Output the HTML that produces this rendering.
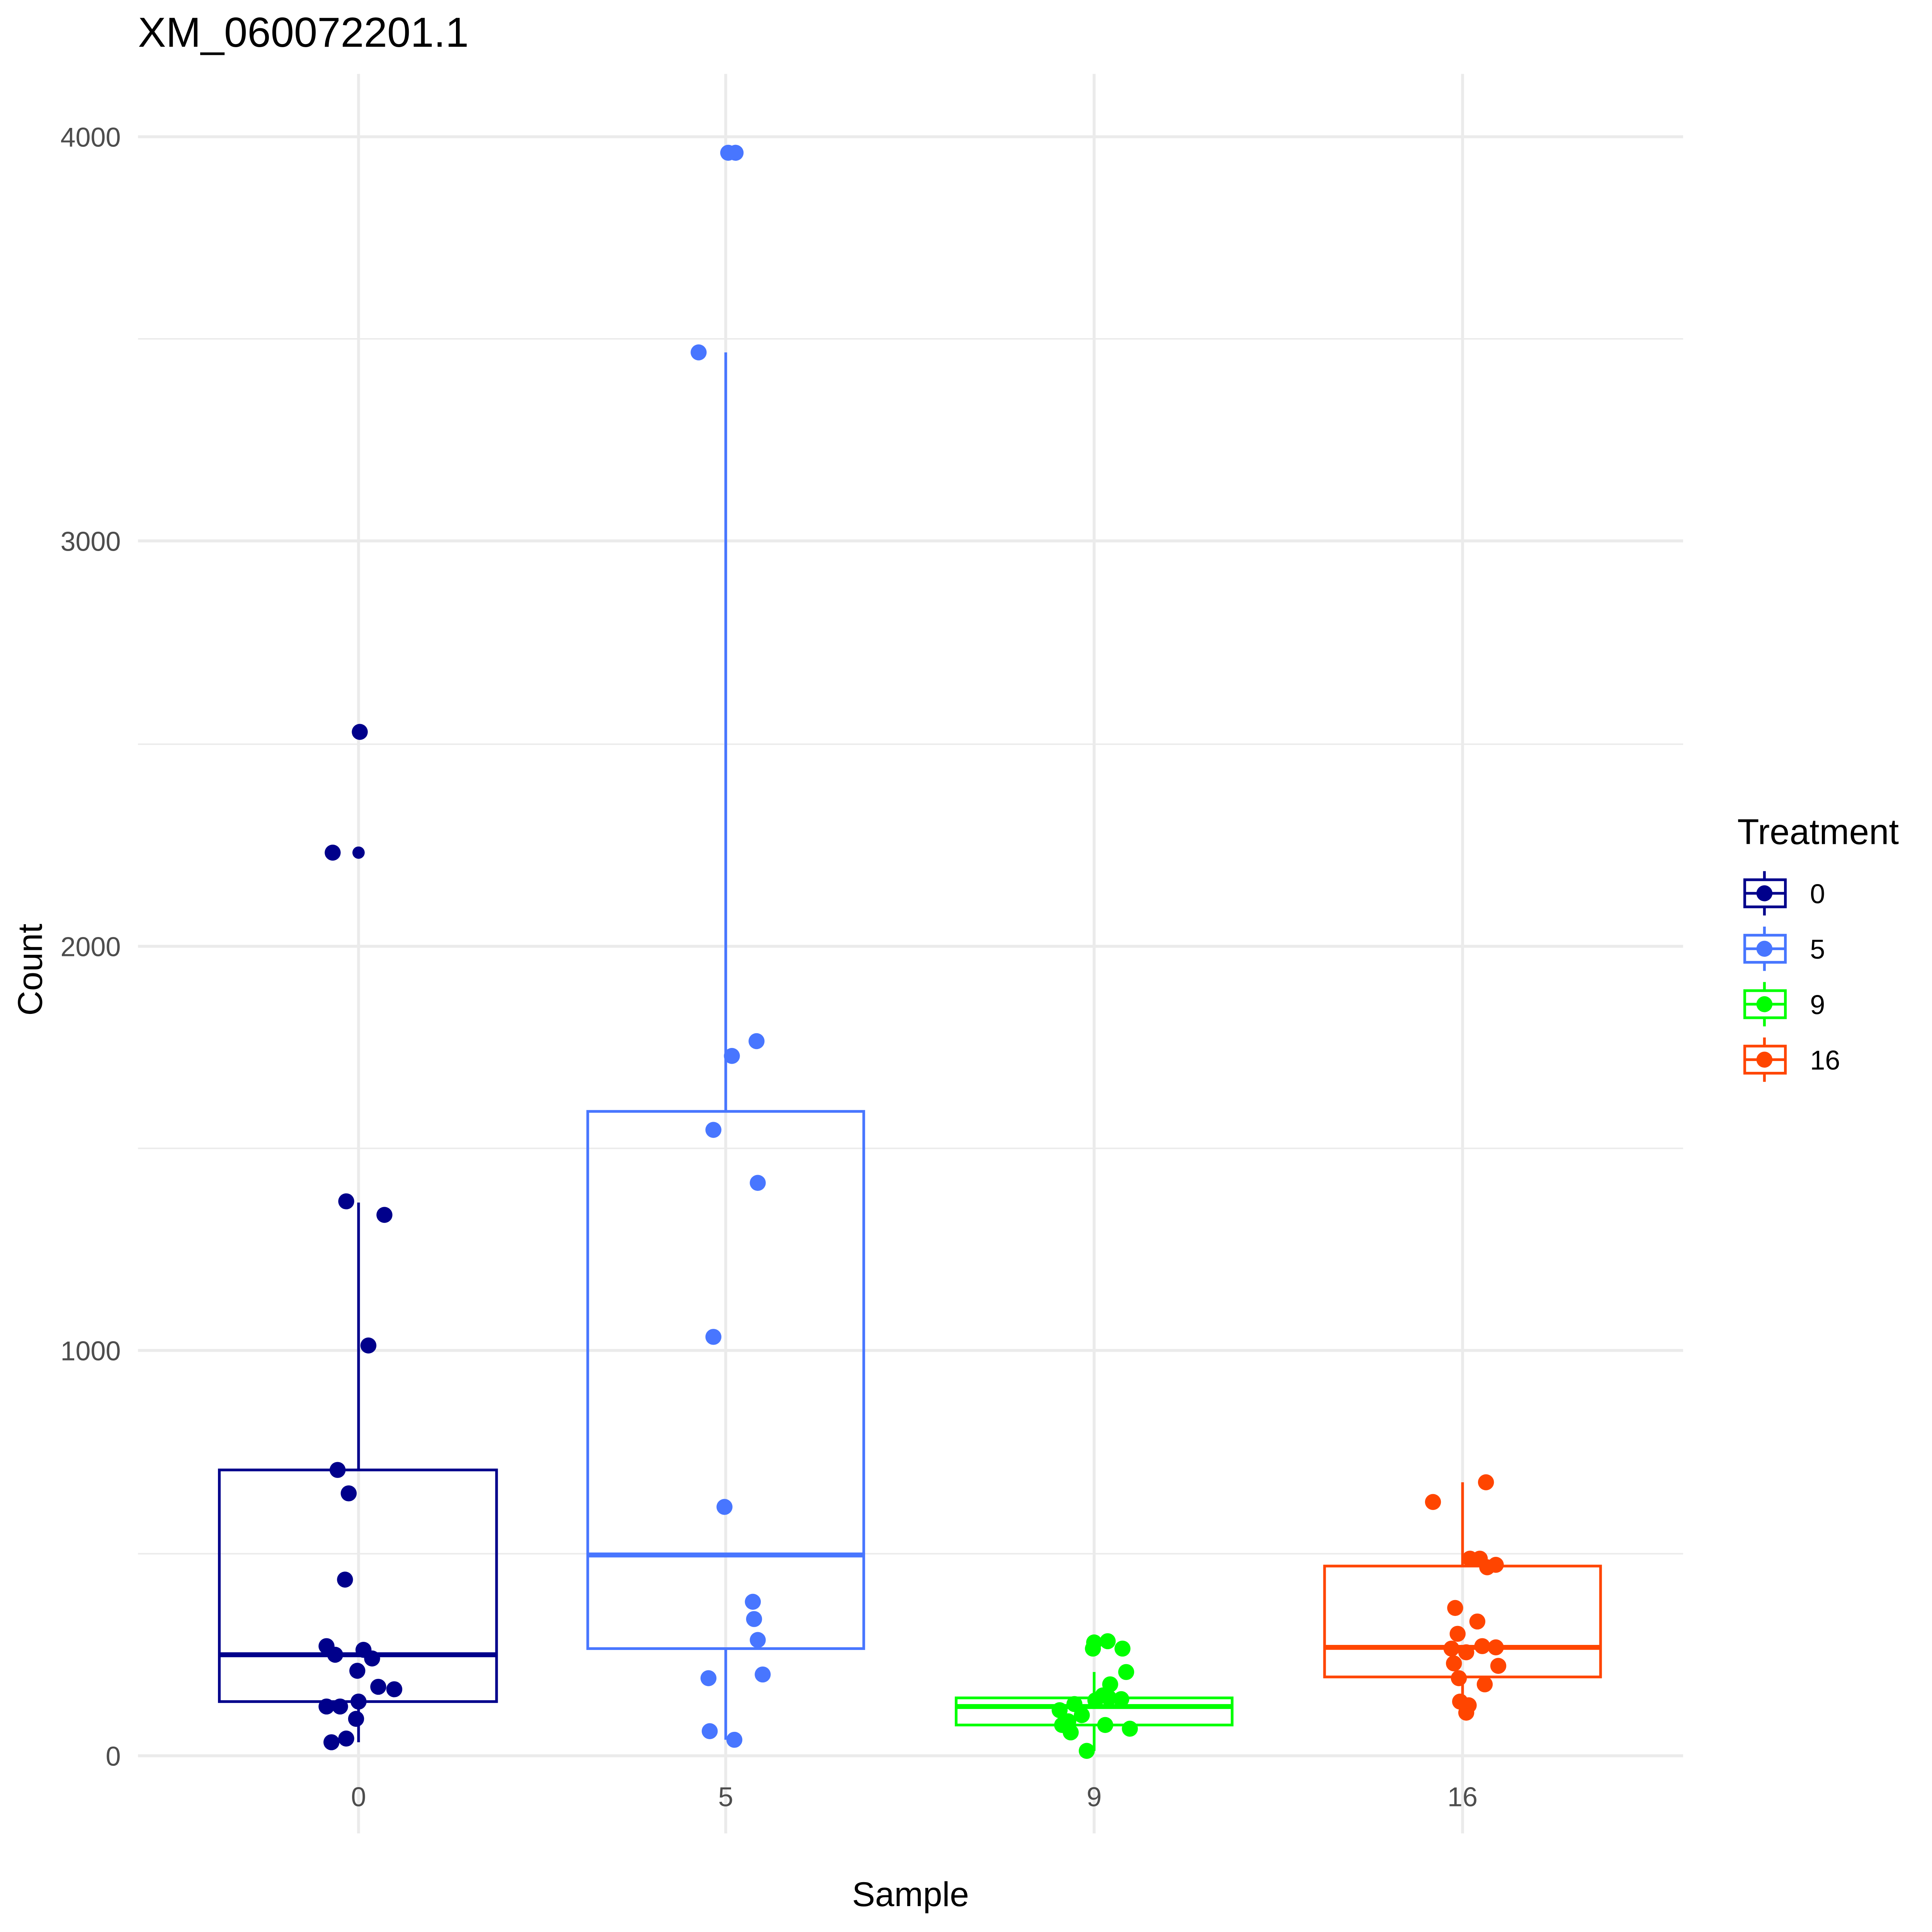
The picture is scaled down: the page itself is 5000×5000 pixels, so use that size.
<!DOCTYPE html>
<html><head><meta charset="utf-8"><style>html,body{margin:0;padding:0;background:#fff}svg{display:block}</style></head>
<body>
<svg xmlns="http://www.w3.org/2000/svg" width="5000" height="5000" viewBox="0 0 1568 1568" font-family="Liberation Sans, sans-serif">
<rect width="1568" height="1568" fill="#fff"/>
<g stroke="#ebebeb" stroke-width="1.2">
<line x1="112" x2="1366" y1="275" y2="275"/><line x1="112" x2="1366" y1="604" y2="604"/>
<line x1="112" x2="1366" y1="932" y2="932"/><line x1="112" x2="1366" y1="1261" y2="1261"/>
</g>
<g stroke="#ebebeb" stroke-width="2.4">
<line x1="112" x2="1366" y1="111" y2="111"/><line x1="112" x2="1366" y1="439" y2="439"/>
<line x1="112" x2="1366" y1="768" y2="768"/><line x1="112" x2="1366" y1="1096" y2="1096"/>
<line x1="112" x2="1366" y1="1425" y2="1425"/>
<line x1="291" x2="291" y1="60" y2="1488"/><line x1="589" x2="589" y1="60" y2="1488"/>
<line x1="888" x2="888" y1="60" y2="1488"/><line x1="1187" x2="1187" y1="60" y2="1488"/>
</g>
<g fill="#4d4d4d" font-size="22" text-anchor="end">
<text x="98" y="119">4000</text><text x="98" y="447">3000</text><text x="98" y="776">2000</text>
<text x="98" y="1104">1000</text><text x="98" y="1433">0</text>
</g>
<g fill="#4d4d4d" font-size="22" text-anchor="middle">
<text x="291" y="1466">0</text><text x="589" y="1466">5</text><text x="888" y="1466">9</text><text x="1187" y="1466">16</text>
</g>
<text x="112" y="38" font-size="34">XM_060072201.1</text>
<text x="739" y="1547" font-size="28" text-anchor="middle">Sample</text>
<text transform="translate(34,787) rotate(-90)" font-size="28" text-anchor="middle">Count</text>
<g fill="none" stroke-width="2.2">
<g stroke="#00008B"><line x1="291" x2="291" y1="976" y2="1193"/><line x1="291" x2="291" y1="1381" y2="1414"/><rect x="178" y="1193" width="225" height="188"/><line x1="178" x2="403" y1="1343" y2="1343" stroke-width="4"/></g>
<g stroke="#4876FF"><line x1="589" x2="589" y1="286" y2="902"/><line x1="589" x2="589" y1="1338" y2="1412"/><rect x="477" y="902" width="224" height="436"/><line x1="477" x2="701" y1="1262" y2="1262" stroke-width="4"/></g>
<g stroke="#00FF00"><line x1="888" x2="888" y1="1357" y2="1378"/><line x1="888" x2="888" y1="1400" y2="1421"/><rect x="776" y="1378" width="224" height="22"/><line x1="776" x2="1000" y1="1385" y2="1385" stroke-width="4"/></g>
<g stroke="#FF4500"><line x1="1187" x2="1187" y1="1203" y2="1271"/><line x1="1187" x2="1187" y1="1361" y2="1390"/><rect x="1075" y="1271" width="224" height="90"/><line x1="1075" x2="1299" y1="1337" y2="1337" stroke-width="4"/></g>
</g>
<g fill="#00008B">
<circle cx="292" cy="594" r="6.5"/><circle cx="270" cy="692" r="6.5"/><circle cx="291" cy="692" r="5"/><circle cx="281" cy="975" r="6.5"/><circle cx="312" cy="986" r="6.5"/><circle cx="299" cy="1092" r="6.5"/><circle cx="274" cy="1193" r="6.5"/><circle cx="283" cy="1212" r="6.5"/><circle cx="280" cy="1282" r="6.5"/><circle cx="265" cy="1336" r="6.5"/><circle cx="295" cy="1339" r="6.5"/><circle cx="272" cy="1343" r="6.5"/><circle cx="302" cy="1346" r="6.5"/><circle cx="290" cy="1356" r="6.5"/><circle cx="307" cy="1369" r="6.5"/><circle cx="320" cy="1371" r="6.5"/><circle cx="265" cy="1385" r="6.5"/><circle cx="276" cy="1385" r="6.5"/><circle cx="291" cy="1381" r="6.5"/><circle cx="289" cy="1395" r="6.5"/><circle cx="281" cy="1411" r="6.5"/><circle cx="269" cy="1414" r="6.5"/>
</g>
<g fill="#4876FF">
<circle cx="591" cy="124" r="6.5"/><circle cx="597" cy="124" r="6.5"/><circle cx="567" cy="286" r="6.5"/><circle cx="614" cy="845" r="6.5"/><circle cx="594" cy="857" r="6.5"/><circle cx="579" cy="917" r="6.5"/><circle cx="615" cy="960" r="6.5"/><circle cx="579" cy="1085" r="6.5"/><circle cx="588" cy="1223" r="6.5"/><circle cx="611" cy="1300" r="6.5"/><circle cx="612" cy="1314" r="6.5"/><circle cx="615" cy="1331" r="6.5"/><circle cx="575" cy="1362" r="6.5"/><circle cx="619" cy="1359" r="6.5"/><circle cx="576" cy="1405" r="6.5"/><circle cx="596" cy="1412" r="6.5"/>
</g>
<g fill="#00FF00">
<circle cx="888" cy="1333" r="6.5"/><circle cx="899" cy="1332" r="6.5"/><circle cx="911" cy="1338" r="6.5"/><circle cx="887" cy="1338" r="6.5"/><circle cx="914" cy="1357" r="6.5"/><circle cx="901" cy="1367" r="6.5"/><circle cx="889" cy="1380" r="6.5"/><circle cx="910" cy="1379" r="6.5"/><circle cx="872" cy="1383" r="6.5"/><circle cx="860" cy="1388" r="6.5"/><circle cx="878" cy="1392" r="6.5"/><circle cx="867" cy="1397" r="6.5"/><circle cx="862" cy="1400" r="6.5"/><circle cx="869" cy="1406" r="6.5"/><circle cx="897" cy="1400" r="6.5"/><circle cx="917" cy="1403" r="6.5"/><circle cx="882" cy="1421" r="6.5"/><circle cx="895" cy="1376" r="6.5"/><circle cx="900" cy="1378" r="6.5"/>
</g>
<g fill="#FF4500">
<circle cx="1206" cy="1203" r="6.5"/><circle cx="1163" cy="1219" r="6.5"/><circle cx="1193" cy="1265" r="6.5"/><circle cx="1201" cy="1265" r="6.5"/><circle cx="1214" cy="1270" r="6.5"/><circle cx="1207" cy="1272" r="6.5"/><circle cx="1181" cy="1305" r="6.5"/><circle cx="1199" cy="1316" r="6.5"/><circle cx="1183" cy="1326" r="6.5"/><circle cx="1178" cy="1338" r="6.5"/><circle cx="1203" cy="1336" r="6.5"/><circle cx="1214" cy="1337" r="6.5"/><circle cx="1190" cy="1341" r="6.5"/><circle cx="1180" cy="1350" r="6.5"/><circle cx="1216" cy="1352" r="6.5"/><circle cx="1184" cy="1362" r="6.5"/><circle cx="1205" cy="1367" r="6.5"/><circle cx="1185" cy="1381" r="6.5"/><circle cx="1192" cy="1384" r="6.5"/><circle cx="1190" cy="1390" r="6.5"/>
</g>
<text x="1410" y="685" font-size="29">Treatment</text>
<g stroke-width="2.2" fill="none">
<g stroke="#00008B"><line x1="1432" x2="1432" y1="707" y2="743"/><rect x="1416" y="714" width="33" height="22" fill="#fff"/><line x1="1416" x2="1449" y1="725" y2="725"/><circle cx="1432" cy="725" r="6.5" fill="#00008B" stroke="none"/></g>
<g stroke="#4876FF"><line x1="1432" x2="1432" y1="752" y2="788"/><rect x="1416" y="759" width="33" height="22" fill="#fff"/><line x1="1416" x2="1449" y1="770" y2="770"/><circle cx="1432" cy="770" r="6.5" fill="#4876FF" stroke="none"/></g>
<g stroke="#00FF00"><line x1="1432" x2="1432" y1="797" y2="833"/><rect x="1416" y="804" width="33" height="22" fill="#fff"/><line x1="1416" x2="1449" y1="815" y2="815"/><circle cx="1432" cy="815" r="6.5" fill="#00FF00" stroke="none"/></g>
<g stroke="#FF4500"><line x1="1432" x2="1432" y1="842" y2="878"/><rect x="1416" y="849" width="33" height="22" fill="#fff"/><line x1="1416" x2="1449" y1="860" y2="860"/><circle cx="1432" cy="860" r="6.5" fill="#FF4500" stroke="none"/></g>
</g>
<g font-size="22">
<text x="1469" y="733">0</text><text x="1469" y="778">5</text><text x="1469" y="823">9</text><text x="1469" y="868">16</text>
</g>
</svg>
</body></html>
